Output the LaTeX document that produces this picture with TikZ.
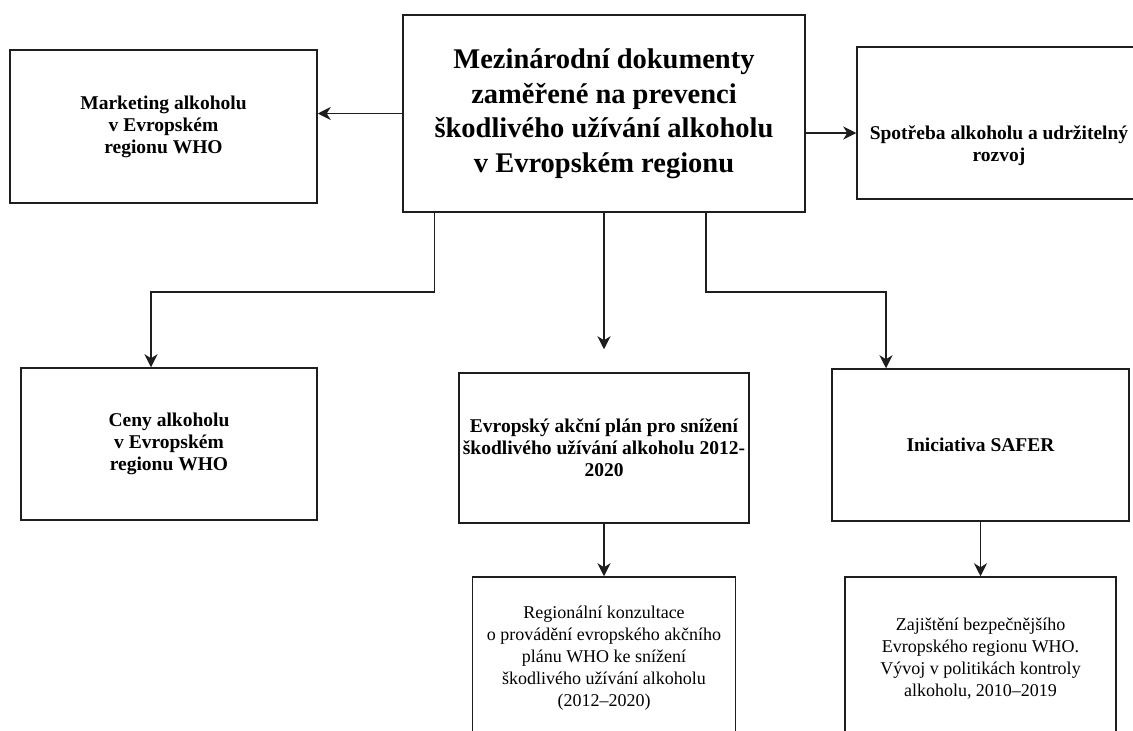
\documentclass[tikz,border=0pt]{standalone}
\usepackage{fontspec}
\setmainfont{Liberation Serif}
\usepackage{xcolor}
\definecolor{Line}{RGB}{30,30,30}
\usetikzlibrary{arrows.meta}
\tikzstyle{Box}=[rectangle,draw=Line,line width=1.5pt,align=center,
font=\fontsize{18}{22}\selectfont,inner sep=4pt]
\tikzstyle{BoxB}=[Box,font=\fontsize{19.5}{22}\selectfont\bfseries]
\tikzstyle{BoxMain}=[Box,font=\fontsize{28.5}{34.5}\selectfont\bfseries]
\tikzstyle{Arrow}=[draw=Line,line width=1.5pt,
-{Stealth[length=13pt,width=13pt,inset=4pt]}]

\begin{document}
\begin{tikzpicture}[x=1pt,y=-1pt]
        \useasboundingbox(0,0)rectangle(1133,731);
        \node[BoxMain,minimum width=402pt,minimum height=197pt](main)at(604,113.5){Mezinárodní dokumenty\\zaměřené na prevenci\\škodlivého užívání alkoholu\\v Evropském regionu};
        \node[BoxB,minimum width=307pt,minimum height=153pt](mkt)at(163.5,126.5){Marketing alkoholu\\v Evropském\\regionu WHO};
        \node[BoxB,minimum width=284pt,minimum height=152pt,text height=80pt,text depth=4pt](spot)at(999,123){Spotřeba alkoholu a udržitelný\\rozvoj};
        \node[BoxB,minimum width=296pt,minimum height=152pt](ceny)at(169,444){Ceny alkoholu\\v Evropském\\regionu WHO};
        \node[BoxB,minimum width=290pt,minimum height=150pt](plan)at(604,448){Evropský akční plán pro snížení\\škodlivého užívání alkoholu 2012-\\2020};
        \node[BoxB,minimum width=297pt,minimum height=152pt](safer)at(980.5,445){Iniciativa SAFER};
        \node[Box,minimum width=263pt,minimum height=163pt](konz)at(604,658.5){Regionální konzultace\\o provádění evropského akčního\\plánu WHO ke snížení\\škodlivého užívání alkoholu\\(2012–2020)};
        \node[Box,minimum width=271pt,minimum height=163pt](zaj)at(980.5,658.5){Zajištění bezpečnějšího\\Evropského regionu WHO.\\Vývoj v politikách kontroly\\alkoholu, 2010–2019};
        \coordinate(c1)at(151,292);
        \coordinate(c2)at(886,292);
        \draw[Arrow](main.west)--(main.west-|mkt.east);
        \draw[Arrow]([yshift=-19.5pt]main.east)--([yshift=-19.5pt]main.east-|spot.west);
        \draw[Arrow]([xshift=32pt]main.south west)|-(c1)--(c1|-ceny.north);
        \draw[Arrow](main.south)--([yshift=23pt]plan.north);
        \draw[Arrow]([xshift=-100pt]main.south east)|-(c2)--(c2|-safer.north);
        \draw[Arrow](plan.south)--(konz.north);
        \draw[Arrow](safer.south)--(zaj.north);
    \end{tikzpicture}
\end{document}
